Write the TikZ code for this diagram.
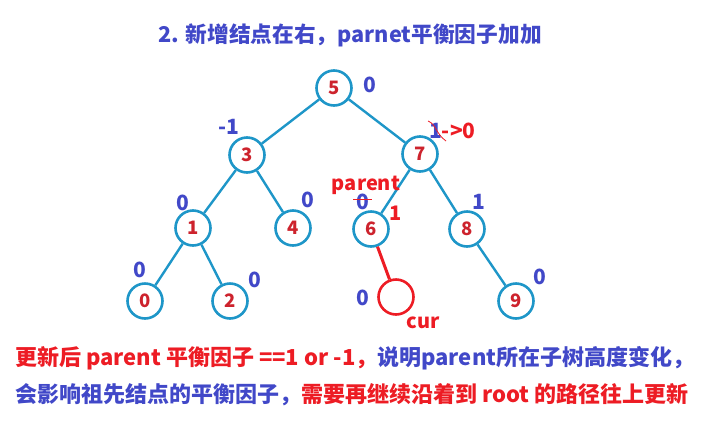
\documentclass[tikz,border=0pt]{standalone}
\usepackage{fontspec}
\setmainfont{Noto Sans CJK SC}
\usetikzlibrary{positioning}
\definecolor{treeline}{RGB}{30,150,200}
\definecolor{keyred}{RGB}{205,35,45}
\definecolor{bfblue}{RGB}{65,72,200}
\definecolor{notered}{RGB}{237,28,36}

\begin{document}
\begin{tikzpicture}[
  x=1pt, y=-1pt,
  key/.style={circle, draw=treeline, line width=2.6pt, minimum size=35pt, inner sep=0pt,
              font=\fontsize{18.5}{18.5}\selectfont\bfseries, text=keyred},
  curkey/.style={key, draw=notered},
  edge/.style={treeline, line width=2.4pt},
  curedge/.style={notered, line width=3pt},
  bf/.style={font=\fontsize{21}{21}\selectfont\bfseries, text=bfblue, inner sep=0pt},
  note/.style={font=\fontsize{20}{20}\selectfont\bfseries, text=notered, inner sep=0pt},
  txt/.style={font=\fontsize{22}{22}\selectfont\bfseries, inner sep=0pt, anchor=west}
]
\useasboundingbox (0,0) rectangle (702,424);
% title
\node[font=\fontsize{21.7}{21.7}\selectfont\bfseries, text=bfblue] (title) at (350,35) {2. 新增结点在右，parnet平衡因子加加};
% tree
\node[key] (n5) at (334,88) {5};
\node[key] (n3) at (247,155) {3};
\node[key] (n7) at (420,154) {7};
\node[key] (n1) at (193,228) {1};
\node[key] (n4) at (293,228) {4};
\node[key] (n6) at (371,229) {6};
\node[key] (n8) at (467,229) {8};
\node[key] (n0) at (145,301) {0};
\node[key] (n2) at (230,301) {2};
\node[curkey] (cur) at (396,297) {};
\node[key] (n9) at (516,301) {9};
\foreach \a/\b in {n5/n3,n5/n7,n3/n1,n3/n4,n7/n6,n7/n8,n1/n0,n1/n2,n8/n9} \draw[edge] (\a) -- (\b);
\draw[curedge] (n6) -- (cur);
% balance factors
\node[bf] (b5) at (370,85) {0};
\node[bf] (b3) at (229,127) {-1};
\node[bf, anchor=west] (b7) at (429,131) {1\textcolor{notered}{->0}};
\draw[notered, line width=0.8pt] (428,121) .. controls (436,124) and (436,134) .. (446,141);
\node[note] (par) at (366,185) {parent};
\node[bf] (b6old) at (363,202) {0};
\draw[notered, line width=1pt] (353,199) -- (372,199);
\node[note] (b6) at (396,213) {1};
\node[bf] (b8) at (479,202) {1};
\node[bf] (b1) at (183,203) {0};
\node[bf] (b4) at (308,200) {0};
\node[bf] (b0) at (140,270) {0};
\node[bf] (b2) at (255,280) {0};
\node[bf] (bcur) at (363,298) {0};
\node[note] (curlbl) at (423,323) {cur};
\node[bf] (b9) at (540,277) {0};
% notes
\node[txt] (line1) at (15,358) {\textcolor{notered}{更新后 parent 平衡因子 ==1 or -1，}\textcolor{bfblue}{说明parent所在子树高度变化，}};
\node[txt] (line2) at (15,395) {\textcolor{bfblue}{会影响祖先结点的平衡因子，}\textcolor{notered}{需要再继续沿着到 root 的路径往上更新}};
\end{tikzpicture}
\end{document}
